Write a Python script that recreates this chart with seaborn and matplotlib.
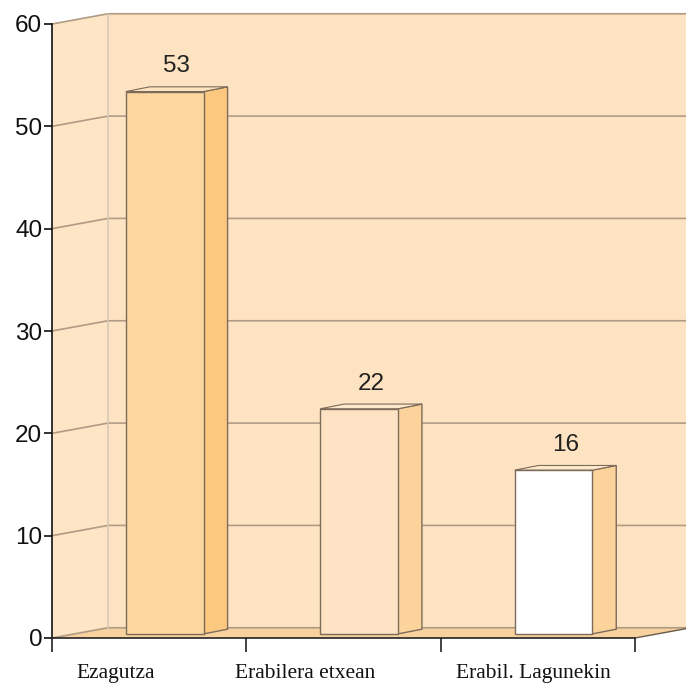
import matplotlib
matplotlib.use("Agg")
import matplotlib.pyplot as plt
from matplotlib.patches import Polygon
import seaborn as sns
import numpy as np

# ---- data ----
categories = ["Ezagutza", "Erabilera etxean", "Erabil. Lagunekin"]
values = [53, 22, 16]
yticks = [0, 10, 20, 30, 40, 50, 60]

# ---- styles ----
front_colors = ["#FDD6A0", "#FDE3C3", "#FFFFFF"]
side_colors = ["#FCC77F", "#FDD39C", "#FDD39C"]
top_colors = ["#FDE3C0", "#FDE8CC", "#FDE8CC"]
wall_color = "#FDE3C2"
left_wall_color = "#FDE5C6"
floor_color = "#F8D29E"
grid_color = "#B09C84"
edge_color = "#7D6B5A"

sns.set_theme(style="white")
plt.rcParams["font.family"] = ["Liberation Sans", "DejaVu Sans"]

fig = plt.figure(figsize=(6.86, 6.85), dpi=100)
ax = fig.add_axes([52 / 686, 47 / 685, 583 / 686, 614 / 685])

DX, DY = 0.288, 1.0          # full depth offset (data units)
BDX, BDY = 0.1235, 0.46      # bar depth offset
SHIFT, LIFT = 0.08, 0.4      # bar front face offset
x0, x1 = -0.5, 2.5
ymax = 60

# walls and floor
ax.add_patch(Polygon([(x0 + DX, DY), (x1 + DX + 1, DY), (x1 + DX + 1, ymax + DY), (x0 + DX, ymax + DY)],
                     closed=True, facecolor=wall_color, edgecolor="none", zorder=0, clip_on=False))
ax.add_patch(Polygon([(x0, 0), (x0 + DX, DY), (x0 + DX, ymax + DY), (x0, ymax)],
                     closed=True, facecolor=left_wall_color, edgecolor="none", zorder=0, clip_on=False))
ax.add_patch(Polygon([(x0, 0), (x1, 0), (x1 + DX, DY), (x0 + DX, DY)],
                     closed=True, facecolor=floor_color, edgecolor="none", zorder=0.5, clip_on=False))

# gridlines
for t in yticks:
    ax.plot([x0, x0 + DX, x1 + DX + 1], [t, t + DY, t + DY], color=grid_color, lw=1.2,
            zorder=1, clip_on=False, solid_capstyle="butt")
# back wall left edge
ax.plot([x0 + DX, x0 + DX], [DY, ymax + DY], color="#D8C8B6", lw=1.2, zorder=1, clip_on=False)
# floor right diagonal
ax.plot([x1, x1 + DX], [0, DY], color="#6A5A4A", lw=1.0, zorder=1, clip_on=False)

# bars (front faces)
sns.barplot(x=categories, y=values, hue=categories, palette=front_colors, legend=False,
            width=0.4, ax=ax, edgecolor=edge_color, linewidth=1.0, saturation=1, zorder=3)

bars = [p for c in ax.containers for p in c]
for i, p in enumerate(bars):
    p.set_x(p.get_x() + SHIFT)
    p.set_y(LIFT)
    p.set_zorder(3)
    xl = p.get_x()
    xr = xl + p.get_width()
    top = LIFT + p.get_height()
    ax.add_patch(Polygon([(xr, LIFT), (xr + BDX, LIFT + BDY), (xr + BDX, top + BDY), (xr, top)],
                         closed=True, facecolor=side_colors[i], edgecolor=edge_color, lw=1.0,
                         zorder=2.9, clip_on=False))
    ax.add_patch(Polygon([(xl, top), (xr, top), (xr + BDX, top + BDY), (xl + BDX, top + BDY)],
                         closed=True, facecolor=top_colors[i], edgecolor=edge_color, lw=0.8,
                         zorder=2.9, clip_on=False))
    ax.text((xl + xr + BDX) / 2, top + BDY + 2.0, str(values[i]), ha="center", va="center",
            fontsize=17.5, color="#222222", zorder=5)

ax.set_xlim(x0, x1)
ax.set_ylim(0, ymax)

for s in ["top", "right"]:
    ax.spines[s].set_visible(False)
ax.spines["left"].set_color("#111111")
ax.spines["left"].set_linewidth(1.2)
ax.spines["bottom"].set_color("#222222")
ax.spines["bottom"].set_linewidth(1.2)
ax.spines["left"].set_zorder(6)
ax.spines["bottom"].set_zorder(6)

ax.set_yticks(yticks)
ax.set_yticklabels([str(t) for t in yticks], fontsize=17.5, color="#111111")
ax.tick_params(axis="y", direction="out", length=6, width=1.2, color="#111111", pad=1, left=True)

ax.set_xticks([-0.5, 0.5, 1.5, 2.5])
ax.set_xticklabels([])
ax.tick_params(axis="x", direction="out", length=10, width=1.2, color="#222222", bottom=True)

# category labels (serif)
label_pos = [-0.17, 0.80, 1.976]
for lp, c in zip(label_pos, categories):
    ax.text(lp, -3.45, c, ha="center", va="center", fontsize=15.5,
            family=["Liberation Serif", "DejaVu Serif"], color="#111111")

ax.set_xlabel("")
ax.set_ylabel("")
ax.patch.set_visible(False)
fig.patch.set_facecolor("white")
fig.savefig("out.png", dpi=100)
